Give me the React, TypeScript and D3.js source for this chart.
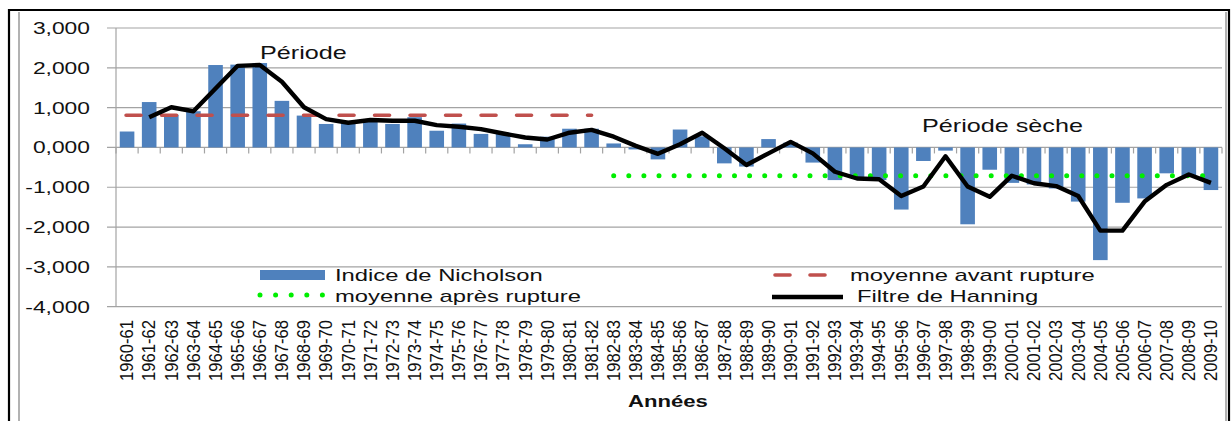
import React from 'react';
import * as d3 from 'd3';

const categories = [
  "1960-61", "1961-62", "1962-63", "1963-64", "1964-65", "1965-66", "1966-67", "1967-68", "1968-69", "1969-70",
  "1970-71", "1971-72", "1972-73", "1973-74", "1974-75", "1975-76", "1976-77", "1977-78", "1978-79", "1979-80",
  "1980-81", "1981-82", "1982-83", "1983-84", "1984-85", "1985-86", "1986-87", "1987-88", "1988-89", "1989-90",
  "1990-91", "1991-92", "1992-93", "1993-94", "1994-95", "1995-96", "1996-97", "1997-98", "1998-99", "1999-00",
  "2000-01", "2001-02", "2002-03", "2003-04", "2004-05", "2005-06", "2006-07", "2007-08", "2008-09", "2009-10",
];

const nicholson = [
  0.40, 1.14, 0.82, 0.91, 2.07, 2.08, 2.12, 1.17, 0.80, 0.59,
  0.62, 0.70, 0.59, 0.76, 0.42, 0.60, 0.34, 0.37, 0.08, 0.27,
  0.47, 0.47, 0.10, -0.05, -0.30, 0.45, 0.28, -0.40, -0.48, 0.21,
  0.12, -0.38, -0.82, -0.74, -0.82, -1.56, -0.34, -0.08, -1.93, -0.56,
  -0.89, -0.93, -1.03, -1.36, -2.83, -1.39, -1.28, -0.65, -0.74, -1.07,
];

const hanning: (number | null)[] = [
  null, 0.76, 1.01, 0.91, 1.48, 2.05, 2.07, 1.65, 1.01, 0.71,
  0.62, 0.69, 0.67, 0.67, 0.56, 0.52, 0.46, 0.35, 0.25, 0.20,
  0.37, 0.44, 0.27, 0.04, -0.16, 0.08, 0.37, -0.02, -0.44, -0.15,
  0.14, -0.15, -0.61, -0.78, -0.80, -1.22, -0.98, -0.22, -0.98, -1.24,
  -0.71, -0.90, -0.97, -1.22, -2.09, -2.09, -1.36, -0.94, -0.68, -0.89,
];

const meanBefore = 0.81;
const meanAfter = -0.71;
const beforeSpan = ["1960-61", "1981-82"];
const afterSpan = ["1982-83", "2009-10"];

const yTicks = [3, 2, 1, 0, -1, -2, -3, -4];

const seriesNames = {
  bars: "Indice de Nicholson",
  before: "moyenne avant rupture",
  after: "moyenne après rupture",
  filter: "Filtre de Hanning",
};
const annotations = { wet: "Période", dry: "Période sèche" };
const xTitle = "Années";

const BAR = "#4F81BD";
const RED = "#C0504D";
const GREEN = "#00EE00";
const GRID = "#a3a3a3";
const FONT = "'Liberation Sans', Arial, sans-serif";

function SText({ x, y, size, sx = 1.4, anchor = "start", weight = "normal", children }: any) {
  return (
    <text
      transform={`translate(${x},${y}) scale(${sx},1)`}
      fontSize={size}
      fontFamily={FONT}
      fontWeight={weight}
      textAnchor={anchor}
      fill="#111"
    >
      {children}
    </text>
  );
}

export default function App() {
  const W = 1232, H = 421;
  const left = 116, right = 1222;
  const x = d3.scaleBand<string>().domain(categories).range([left, right]).paddingInner(0.34).paddingOuter(0.17);
  const y = d3.scaleLinear().domain([-4, 3]).range([306.7, 28]);
  const bw = x.bandwidth();
  const step = x.step();
  const cx = (c: string) => (x(c) as number) + bw / 2;
  const fmt = (v: number) => d3.format(".3f")(v).replace(".", ",").replace("−", "-");

  const pairs = categories.map((c, i) => [c, hanning[i]] as [string, number | null]);
  const line = d3
    .line<[string, number | null]>()
    .defined((d) => d[1] != null)
    .x((d) => cx(d[0]))
    .y((d) => y(d[1] as number));

  const boundaries = d3.range(categories.length + 1).map((i) => left + i * step);

  return (
    <svg width={W} height={H} style={{ position: "absolute", left: 0, top: 0, background: "#fff" }}>
      <rect x={0} y={0} width={W} height={H} fill="#fff" />
      {/* frame */}
      <path d={`M9,${H} V10 H1229 V${H}`} fill="none" stroke="#000" strokeWidth={2.2} />
      <line x1={19} y1={12} x2={19} y2={H} stroke="#999" strokeWidth={1.5} />
      <line x1={1226} y1={12} x2={1226} y2={H} stroke="#999" strokeWidth={1.5} />

      {/* gridlines */}
      {yTicks.map((t) => (
        <line key={t} x1={107} x2={right} y1={y(t)} y2={y(t)} stroke={GRID} strokeWidth={1.2} />
      ))}
      <line x1={left} x2={left} y1={y(3)} y2={y(-4)} stroke={GRID} strokeWidth={1.2} />
      {yTicks.map((t) => (
        <SText key={t} x={90} y={y(t) + 6} size={16.3} anchor="end">
          {fmt(t)}
        </SText>
      ))}

      {/* bars */}
      {categories.map((c, i) => {
        const v = nicholson[i];
        return (
          <rect key={c} x={x(c)} width={bw} y={y(Math.max(0, v))} height={Math.abs(y(v) - y(0))} fill={BAR} />
        );
      })}

      {/* x axis ticks */}
      {boundaries.map((bx, i) => (
        <line key={i} x1={bx} x2={bx} y1={y(0)} y2={y(0) + 6} stroke={GRID} strokeWidth={1.2} />
      ))}

      {/* means */}
      <line
        x1={cx(beforeSpan[0]) - 1}
        x2={cx(beforeSpan[1])}
        y1={y(meanBefore)}
        y2={y(meanBefore)}
        stroke={RED}
        strokeWidth={3.6}
        strokeDasharray="15 20.5"
        strokeLinecap="round"
      />
      <line
        x1={cx(afterSpan[0])}
        x2={cx(afterSpan[1]) + 2}
        y1={y(meanAfter)}
        y2={y(meanAfter)}
        stroke={GREEN}
        strokeWidth={5}
        strokeDasharray="0 15.1"
        strokeLinecap="round"
      />

      {/* Hanning */}
      <path d={line(pairs) || ""} fill="none" stroke="#000" strokeWidth={4.4} strokeLinejoin="round" />

      {/* annotations */}
      <SText x={260} y={59} size={18}>{annotations.wet}</SText>
      <SText x={922} y={132} size={18}>{annotations.dry}</SText>

      {/* x labels */}
      {categories.map((c) => (
        <text
          key={c}
          transform={`translate(${cx(c) + 6.3},320) rotate(-90) scale(1,1.07)`}
          fontSize={16.6}
          fontFamily={FONT}
          textAnchor="end"
          fill="#111"
        >
          {c}
        </text>
      ))}
      <SText x={668} y={407} size={17} sx={1.3} anchor="middle" weight="bold">{xTitle}</SText>

      {/* legend */}
      <rect x={260} y={270} width={65} height={10} fill={BAR} />
      <SText x={335} y={281} size={17}>{seriesNames.bars}</SText>
      <line x1={260} x2={323} y1={295} y2={295} stroke={GREEN} strokeWidth={5} strokeDasharray="0 15.6" strokeLinecap="round" />
      <SText x={335} y={302} size={17}>{seriesNames.after}</SText>
      <line x1={775} x2={826} y1={275} y2={275} stroke={RED} strokeWidth={3.6} strokeDasharray="15 20" strokeLinecap="round" />
      <SText x={850} y={281} size={17}>{seriesNames.before}</SText>
      <line x1={772} x2={843} y1={297} y2={297} stroke="#000" strokeWidth={4.4} />
      <SText x={857} y={302} size={17}>{seriesNames.filter}</SText>
    </svg>
  );
}
